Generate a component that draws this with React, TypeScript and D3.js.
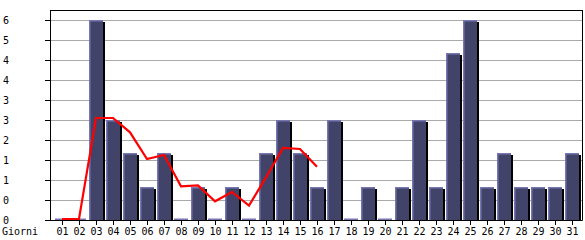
import React from "react";
import * as d3 from "d3";

const days = ["01","02","03","04","05","06","07","08","09","10","11","12","13","14","15","16","17","18","19","20","21","22","23","24","25","26","27","28","29","30","31"];
const visits = [0,0,6,3,2,1,2,0,1,0,1,0,2,3,2,1,3,0,1,0,1,3,1,5,6,1,2,1,1,1,2];
const trend = [0,0,3.03,3.03,2.6,1.8,1.92,0.98,1.01,0.53,0.81,0.4,1.25,2.13,2.1,1.57];
const yTickValues = [0,0.6,1.2,1.8,2.4,3.0,3.6,4.2,4.8,5.4,6.0];
const yTickLabels = ["0","0","1","1","2","3","3","4","4","5","6"];
const xTitle = "Giorni";

const W = 585, H = 240;
const L = 50, R = 582, T = 10, B = 220;

export default function App() {
  const x = d3.scaleBand<string>().domain(days).range([53.5, 580.5]).paddingInner(3 / 17).paddingOuter(1.5 / 17);
  const y = d3.scaleLinear().domain([0, 6.3]).range([B, T]);
  const bw = x.bandwidth();
  const line = d3.line<number>()
    .x((_, i) => (x(days[i]) as number) + bw / 2)
    .y((d) => y(d) - 1);
  const font = "'DejaVu Sans Mono', monospace";
  return (
    <svg width={W} height={H} style={{ position: "absolute", left: 0, top: 0 }}>
      <rect x={0} y={0} width={W} height={H} fill="#ffffff" />
      {yTickValues.slice(1).map((v, i) => (
        <line key={"g" + i} x1={L} x2={R} y1={Math.round(y(v)) + 0.5} y2={Math.round(y(v)) + 0.5} stroke="#aaaaaa" strokeWidth={1} />
      ))}
      {visits.map((v, i) => {
        const bx = x(days[i]) as number;
        const top = Math.round(y(v));
        if (v === 0) {
          return <rect key={"b" + i} x={bx} y={B - 1.5} width={bw} height={1.5} fill="#7676b2" />;
        }
        return (
          <g key={"b" + i}>
            <rect x={bx + bw} y={top + 2} width={2} height={B - top - 2} fill="#000000" />
            <rect x={bx} y={top} width={bw} height={B - top} fill="#414468" />
            <rect x={bx} y={top} width={bw} height={1.5} fill="#7676b2" />
            <rect x={bx} y={top} width={1.5} height={B - top} fill="#7676b2" />
          </g>
        );
      })}
      <line x1={L + 0.5} x2={L + 0.5} y1={T} y2={B + 0.5} stroke="#000" strokeWidth={1} />
      <line x1={L} x2={R + 0.5} y1={B + 0.5} y2={B + 0.5} stroke="#000" strokeWidth={1} />
      <line x1={L} x2={R + 0.5} y1={T + 0.5} y2={T + 0.5} stroke="#000" strokeWidth={1} />
      <line x1={R + 0.5} x2={R + 0.5} y1={T} y2={B + 0.5} stroke="#000" strokeWidth={1} />
      <path d={line(trend) || ""} fill="none" stroke="#ff0000" strokeWidth={2.2} strokeLinejoin="miter" />
      {yTickValues.map((v, i) => (
        <g key={"yt" + i}>
          <line x1={45} x2={L} y1={Math.round(y(v)) + 0.5} y2={Math.round(y(v)) + 0.5} stroke="#000" />
          <text x={3} y={Math.round(y(v)) + 4} fontFamily={font} fontSize={10} fill="#000">{yTickLabels[i]}</text>
        </g>
      ))}
      {days.map((d, i) => {
        const cx = Math.round((x(d) as number) + bw / 2) + 0.5;
        return (
          <g key={"xt" + i}>
            <line x1={cx} x2={cx} y1={B} y2={B + 5} stroke="#000" />
            <text x={cx} y={235} textAnchor="middle" fontFamily={font} fontSize={10} fill="#000">{d}</text>
          </g>
        );
      })}
      <text x={2} y={235} fontFamily={font} fontSize={10} fill="#000">{xTitle}</text>
    </svg>
  );
}
